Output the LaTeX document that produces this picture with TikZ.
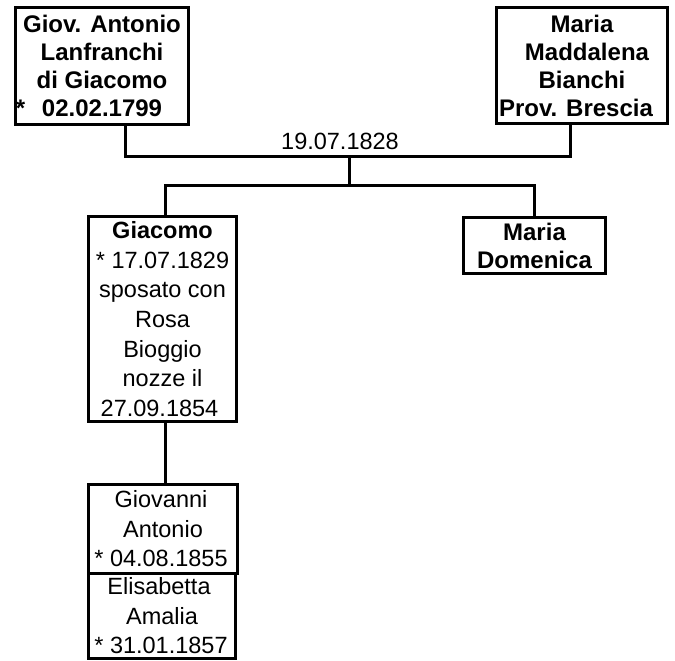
\documentclass[tikz,border=0pt]{standalone}
\usepackage{fontspec}
\setmainfont{Liberation Sans}
\begin{document}
\begin{tikzpicture}[x=1pt,y=-1pt,
  person/.style={draw=black, line width=3pt, fill=white, inner sep=0pt, align=center,
    font=\fontsize{23.5}{29.7}\selectfont},
  top/.style={person, font=\fontsize{24}{28}\selectfont\bfseries},
  link/.style={draw=black, line width=3pt}]
\useasboundingbox (0,0) rectangle (675,661);
\fill[white] (0,0) rectangle (675,661);
% nodes
\node[top, minimum width=173pt, minimum height=117pt] (giov) at (102,66)
  {Giov. Antonio\\Lanfranchi\\di Giacomo\hspace*{22pt}\\*\hspace{0.7em}02.02.1799\hspace*{26pt}};
\node[top, minimum width=171pt, minimum height=116pt] (mad) at (582,65.5)
  {Maria\\\hspace*{10pt}Maddalena\\Bianchi\\Prov. Brescia\hspace*{12pt}};
\node[person, minimum width=148pt, minimum height=205pt] (gia) at (162.5,319)
  {\textbf{Giacomo}\\* 17.07.1829\hspace*{4pt}\\sposato con\hspace*{10pt}\\Rosa\hspace*{14pt}\\Bioggio\hspace*{18pt}\\nozze il\hspace*{10pt}\\27.09.1854\hspace*{6pt}};
\node[person, minimum width=142pt, minimum height=56pt, font=\fontsize{24}{28}\selectfont\bfseries] (dom) at (534.5,245.5)
  {Maria\\Domenica};
\node[person, minimum width=149pt, minimum height=88.5pt] (gvn) at (163,528.75)
  {Giovanni\hspace*{4pt}\\Antonio\hspace*{4pt}\\* 04.08.1855\hspace*{4pt}};
\node[person, minimum width=147pt, minimum height=85.5pt] (eli) at (162,615.75)
  {Elisabetta\hspace*{6pt}\\Amalia\\* 31.01.1857\hspace*{2pt}};
% connectors
\coordinate (m1) at (125,156);
\coordinate (m2) at (570,156);
\coordinate (mc) at (349,156);
\coordinate (cc) at (349,185);
\coordinate (c1) at (165,185);
\coordinate (c2) at (534.5,185);
\draw[link] (giov.south -| m1) -- (m1) -- (m2) -- (mad.south -| m2);
\draw[link] (mc) -- (cc);
\draw[link] (gia.north -| c1) -- (c1) -- (c2) -- (dom.north);
\draw[link] (gia.south -| c1) -- (gvn.north -| c1);
\node[font=\fontsize{23.5}{28}\selectfont, inner sep=0pt] (date) at (340,141) {19.07.1828};
\end{tikzpicture}
\end{document}
